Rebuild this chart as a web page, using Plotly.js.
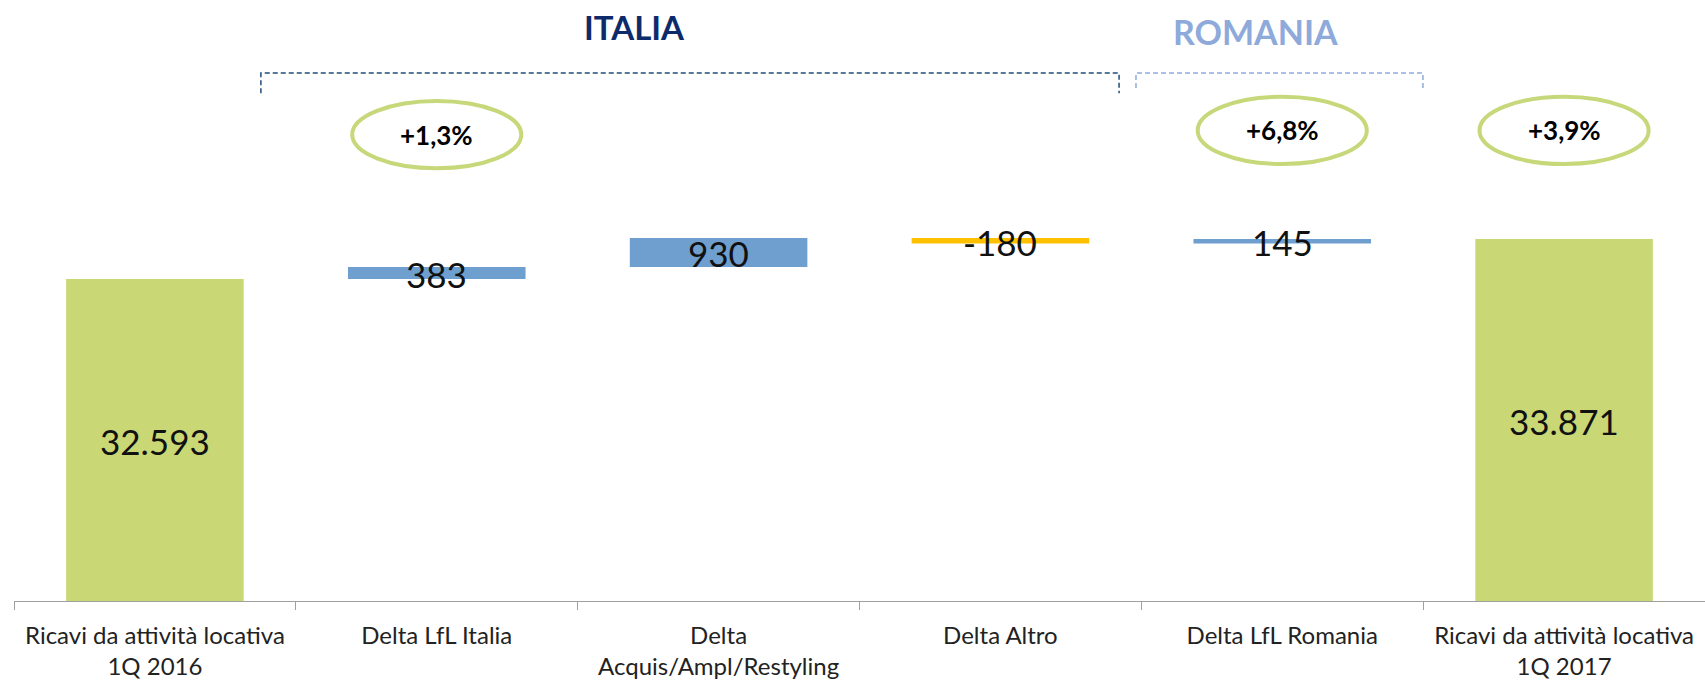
<!DOCTYPE html>
<html>
<head>
<meta charset="utf-8">
<script src="https://cdn.plot.ly/plotly-3.0.1.min.js"></script>
<style>
  html, body { margin: 0; padding: 0; background: #fff; }
  #chart { width: 1705px; height: 681px; }
</style>
</head>
<body>
<div id="chart"></div>
<script>
// categorie e valori del ponte ricavi
const categories = [
  'Ricavi da attività locativa<br>1Q 2016',
  'Delta LfL Italia',
  'Delta<br>Acquis/Ampl/Restyling',
  'Delta Altro',
  'Delta LfL Romania',
  'Ricavi da attività locativa<br>1Q 2017'
];
const measures = ['absolute', 'relative', 'relative', 'relative', 'relative', 'total'];
const values = [32593, 383, 930, -180, 145, 33871];

// crescite evidenziate negli ovali
const growthIndex = [1, 4, 5];
const growthLabels = ['+1,3%', '+6,8%', '+3,9%'];

const yMin = 22305;
const yMax = 41506;

const fmt = v => {
  const s = String(Math.abs(v)).replace(/\B(?=(\d{3})+(?!\d))/g, '.');
  return (v < 0 ? '-' : '') + s;
};

// posizione verticale delle etichette: centro della barra visibile
const labelY = [];
let level = 0;
values.forEach((v, i) => {
  if (measures[i] === 'absolute') {
    level = v;
    labelY.push((yMin + level) / 2);
  } else if (measures[i] === 'total') {
    labelY.push((yMin + level) / 2);
  } else {
    labelY.push(level + v / 2);
    level += v;
  }
});

const data = [
  {
    type: 'waterfall',
    x: categories,
    y: values,
    measure: measures,
    width: 0.63,
    increasing: { marker: { color: '#6F9FCF' } },
    decreasing: { marker: { color: '#FFC000' } },
    totals: { marker: { color: '#C9D875' } },
    connector: { visible: false },
    hoverinfo: 'skip',
  }
];

const ellY = [[0.72, 0.832], [0.727, 0.839], [0.727, 0.839]];
const shapes = growthIndex.map((c, i) => ({
  type: 'circle', xref: 'x', yref: 'paper',
  x0: c - 0.3, x1: c + 0.3, y0: ellY[i][0], y1: ellY[i][1],
  line: { color: '#C6D879', width: 4 },
}));

// parentesi tratteggiate
shapes.push({
  type: 'path', xref: 'paper', yref: 'paper',
  path: 'M 0.146 0.845 L 0.146 0.8785 L 0.6535 0.8785 L 0.6535 0.845',
  line: { color: '#1F4E79', width: 1.5, dash: '5px,3px' },
});
shapes.push({
  type: 'path', xref: 'paper', yref: 'paper',
  path: 'M 0.6635 0.8536 L 0.6635 0.8785 L 0.8332 0.8785 L 0.8332 0.8536',
  line: { color: '#8EAADB', width: 1.5, dash: '5px,3px' },
});

// etichette dei valori
const annotations = values.map((v, i) => ({
  xref: 'x', yref: 'y', x: categories[i], y: labelY[i],
  xanchor: 'center', yanchor: 'middle', yshift: -1,
  text: fmt(v), showarrow: false,
  font: { family: 'Lato, sans-serif', size: 35, color: '#111' },
}));

growthIndex.forEach((c, i) => annotations.push({
  xref: 'x', yref: 'paper', x: c, y: (ellY[i][0] + ellY[i][1]) / 2,
  xanchor: 'center', yanchor: 'middle',
  text: '<b>' + growthLabels[i] + '</b>', showarrow: false,
  font: { family: 'Lato, sans-serif', size: 26, color: '#000' },
}));
annotations.push({
  xref: 'paper', yref: 'paper', x: 0.367, y: 0.955,
  xanchor: 'center', yanchor: 'middle',
  text: '<b>ITALIA</b>', showarrow: false,
  font: { family: 'Lato, sans-serif', size: 33, color: '#0D2B6B' },
});
annotations.push({
  xref: 'paper', yref: 'paper', x: 0.734, y: 0.948,
  xanchor: 'center', yanchor: 'middle',
  text: '<b>ROMANIA</b>', showarrow: false,
  font: { family: 'Lato, sans-serif', size: 34, color: '#8EAADB' },
});

const layout = {
  width: 1705,
  height: 681,
  margin: { l: 14, r: 0, t: 0, b: 80 },
  paper_bgcolor: '#fff',
  plot_bgcolor: '#fff',
  showlegend: false,
  xaxis: {
    type: 'category',
    showline: true,
    linecolor: '#A0A0A0',
    linewidth: 1,
    ticks: 'outside',
    tickson: 'boundaries',
    ticklen: 8,
    tickcolor: '#A0A0A0',
    ticklabelstandoff: 13,
    showgrid: false,
    tickfont: { family: 'Lato, sans-serif', size: 24, color: '#222' },
    fixedrange: true,
  },
  yaxis: {
    visible: false,
    range: [yMin, yMax],
    fixedrange: true,
  },
  shapes: shapes,
  annotations: annotations,
};

Plotly.newPlot('chart', data, layout, { displayModeBar: false, staticPlot: true });
</script>
</body>
</html>
